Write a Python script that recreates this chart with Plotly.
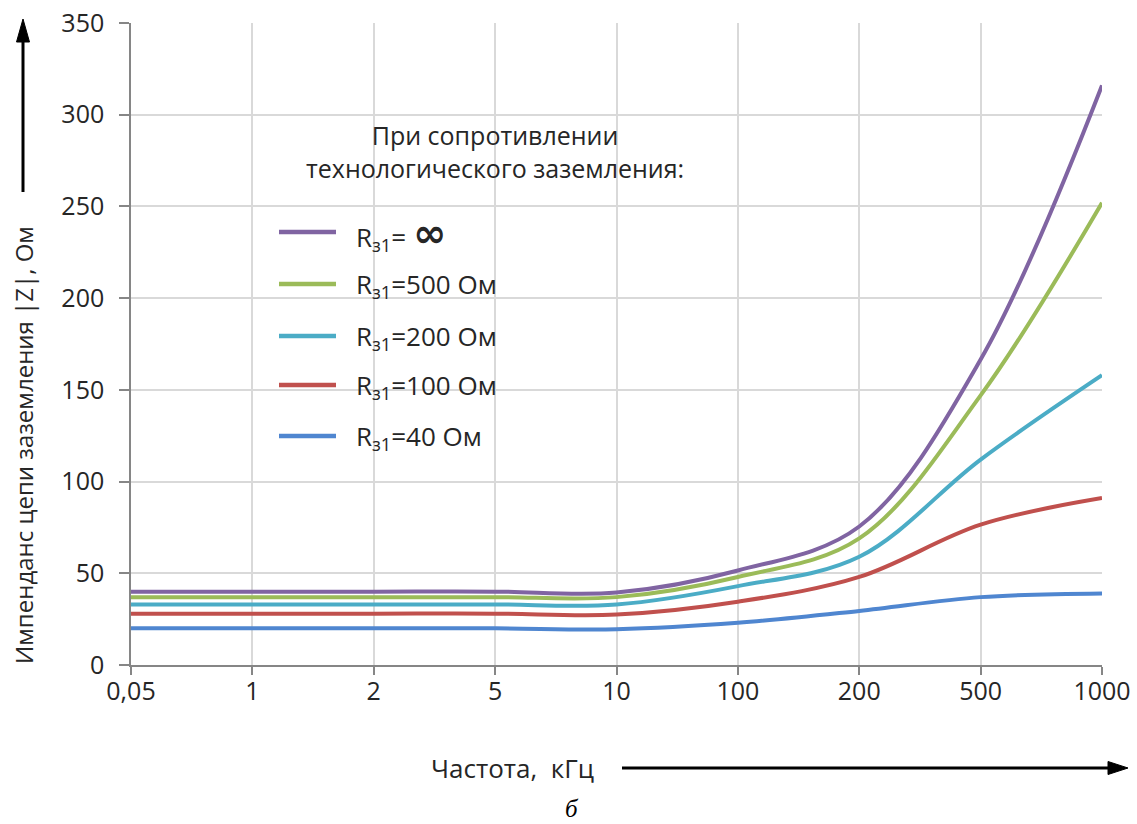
import plotly.graph_objects as go

# Frequency categories (kHz), equally spaced on the axis
freq_labels = ["0,05", "1", "2", "5", "10", "100", "200", "500", "1000"]

# |Z| of the earthing circuit, Ohm, for each technological earth resistance
z_inf = [40, 40, 40, 40, 39.5, 51.5, 75.5, 166.5, 316]
z_500 = [37, 37, 37, 37, 37, 48, 69, 147, 252]
z_200 = [33, 33, 33, 33, 33, 43, 59, 112, 158]
z_100 = [28, 28, 28, 28, 27.5, 34.5, 48, 76.5, 91]
z_40 = [20, 20, 20, 20, 19.5, 23, 29.5, 37, 39]

series_names = [
    "R<sub>з1</sub>= <span style='font-family:DejaVu Sans;font-size:40px'><b>∞</b></span>",
    "R<sub>з1</sub>=500 Ом",
    "R<sub>з1</sub>=200 Ом",
    "R<sub>з1</sub>=100 Ом",
    "R<sub>з1</sub>=40 Ом",
]
series_values = [z_inf, z_500, z_200, z_100, z_40]
series_colors = ["#8064A2", "#9BBB59", "#4BACC6", "#C0504D", "#4F86D0"]

W, H = 1137, 824
PL, PR, PT, PB = 131, 1102, 23, 665


def px(x):
    return (x - PL) / (PR - PL)


def py(y):
    return (PB - y) / (PB - PT)


FONT = "Open Sans"
TXT = "#262626"

fig = go.Figure()
xs = list(range(len(freq_labels)))
for name, vals, col in zip(series_names, series_values, series_colors):
    fig.add_trace(go.Scatter(
        x=xs, y=vals, name=name, mode="lines",
        line=dict(color=col, width=4, shape="spline", smoothing=1),
        showlegend=False,
    ))

shapes = []
annotations = []

# legend panel
shapes.append(dict(type="rect", xref="paper", yref="paper",
                   x0=px(252), x1=px(706), y0=py(118), y1=py(462),
                   fillcolor="white", line=dict(width=0), layer="between"))
annotations.append(dict(
    xref="paper", yref="paper", x=px(495), y=py(151),
    text="При сопротивлении<br>технологического заземления:",
    showarrow=False, xanchor="center", yanchor="middle", align="center",
    font=dict(family=FONT, size=25, color=TXT)))
leg_y = [232, 284, 336, 385, 436]
for i, (name, col) in enumerate(zip(series_names, series_colors)):
    yy = leg_y[i]
    shapes.append(dict(type="line", xref="paper", yref="paper",
                       x0=px(279), x1=px(336), y0=py(yy), y1=py(yy),
                       line=dict(color=col, width=4.5)))
    annotations.append(dict(
        xref="paper", yref="paper", x=px(354), y=py(yy + 1),
        text=name, showarrow=False, xanchor="left", yanchor="middle",
        font=dict(family=FONT, size=26, color=TXT)))

# y-axis title with arrow
annotations.append(dict(
    xref="paper", yref="paper", x=px(23), y=py(445),
    text="Импенданс цепи заземления |Z|, Ом", textangle=-90,
    showarrow=False, xanchor="center", yanchor="middle",
    font=dict(family=FONT, size=24, color=TXT)))
shapes.append(dict(type="line", xref="paper", yref="paper",
                   x0=px(23), x1=px(23), y0=py(192), y1=py(38),
                   line=dict(color="black", width=3)))
shapes.append(dict(type="path", xref="paper", yref="paper",
                   path="M {} {} L {} {} L {} {} Z".format(
                       px(16.5), py(42), px(23), py(19), px(29.5), py(42)),
                   fillcolor="black", line=dict(color="black", width=1)))

# x-axis title with arrow
annotations.append(dict(
    xref="paper", yref="paper", x=px(512), y=py(768),
    text="Частота,  кГц", showarrow=False,
    xanchor="center", yanchor="middle",
    font=dict(family=FONT, size=26, color=TXT)))
shapes.append(dict(type="line", xref="paper", yref="paper",
                   x0=px(622), x1=px(1112), y0=py(768), y1=py(768),
                   line=dict(color="black", width=3)))
shapes.append(dict(type="path", xref="paper", yref="paper",
                   path="M {} {} L {} {} L {} {} Z".format(
                       px(1108), py(761.5), px(1128), py(768), px(1108), py(774.5)),
                   fillcolor="black", line=dict(color="black", width=1)))

# panel letter
annotations.append(dict(
    xref="paper", yref="paper", x=px(572), y=py(808),
    text="<i>б</i>", showarrow=False, xanchor="center", yanchor="middle",
    font=dict(family="Liberation Serif", size=25, color="black")))

fig.update_layout(
    width=W, height=H,
    margin=dict(l=PL, r=W - PR, t=PT, b=H - PB, pad=0, autoexpand=False),
    paper_bgcolor="white", plot_bgcolor="white",
    font=dict(family=FONT, color=TXT),
    shapes=shapes, annotations=annotations,
    showlegend=False,
)
fig.update_xaxes(
    range=[0, 8], tickmode="array", tickvals=xs, ticktext=freq_labels,
    showgrid=True, gridcolor="#D9D9D9", gridwidth=1.5,
    showline=True, linecolor="#868686", linewidth=1.5,
    ticks="outside", ticklen=8, tickwidth=1.5, tickcolor="#868686",
    tickfont=dict(family=FONT, size=25, color=TXT), zeroline=False,
    ticklabelstandoff=-5, automargin=False,
)
fig.update_yaxes(
    range=[0, 350], tickvals=list(range(0, 351, 50)),
    showgrid=True, gridcolor="#D9D9D9", gridwidth=1.5,
    showline=True, linecolor="#868686", linewidth=1.5,
    ticks="outside", ticklen=10, tickwidth=1.5, tickcolor="#868686",
    tickfont=dict(family=FONT, size=25, color=TXT), zeroline=False,
    ticklabelstandoff=10, automargin=False,
)

fig.write_html("out.html")
